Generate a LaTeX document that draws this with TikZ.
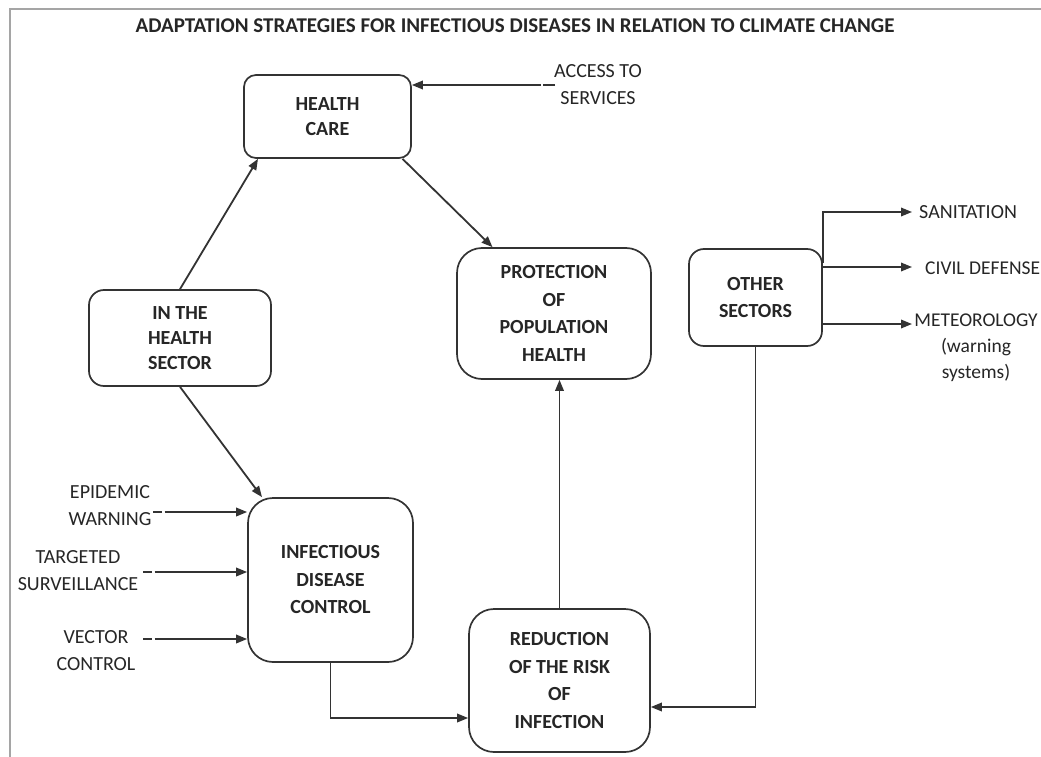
\documentclass[tikz,border=0pt]{standalone}
\usepackage{fontspec}
\setmainfont{Carlito}
\usetikzlibrary{arrows.meta,calc}
\definecolor{ln}{HTML}{333333}
\definecolor{tx}{HTML}{262626}
\definecolor{fr}{HTML}{A5A5A5}
\begin{document}
\begin{tikzpicture}[x=1pt,y=-1pt,
  box/.style={draw=ln, line width=1.7pt, rounded corners=#1, fill=white, text=tx,
    font=\bfseries\fontsize{20}{27.5}\selectfont, align=center, inner sep=0pt},
  box/.default=15pt,
  arr/.style={draw=ln, line width=1.8pt, -{Triangle[length=11pt,width=8.5pt]}},
  dp/.style={dash pattern=on 9pt off 2.5pt on 600pt},
  lbl/.style={text=tx, font=\fontsize{20}{27}\selectfont, align=center, inner sep=0pt}]
\useasboundingbox (0,0) rectangle (1041,757);
\fill[white] (0,0) rectangle (1041,757);
\draw[fr, line width=1.8pt] (10,757) -- (10,9) -- (1041,9);

\node[text=tx, font=\bfseries\fontsize{21}{24}\selectfont, inner sep=0pt] (title) at (515,26)
  {ADAPTATION STRATEGIES FOR INFECTIOUS DISEASES IN RELATION TO CLIMATE CHANGE};

% boxes
\node[box=12pt, minimum width=167pt, minimum height=83pt, font=\bfseries\fontsize{20}{25}\selectfont] (hc) at (327.5,116.5) {HEALTH\\CARE};
\node[box=15pt, minimum width=182pt, minimum height=96pt, font=\bfseries\fontsize{20}{25}\selectfont] (hs) at (180,338) {IN THE\\HEALTH\\SECTOR};
\node[box=25pt, minimum width=194pt, minimum height=131pt] (prot) at (554,313.5) {PROTECTION\\OF\\POPULATION\\HEALTH};
\node[box=15pt, minimum width=133pt, minimum height=97pt] (oth) at (755.5,297.5) {OTHER\\SECTORS};
\node[box=25pt, minimum width=165pt, minimum height=164pt] (inf) at (330.5,580) {INFECTIOUS\\DISEASE\\CONTROL};
\node[box=25pt, minimum width=181pt, minimum height=143pt] (red) at (559.5,680.5) {REDUCTION\\OF THE RISK\\OF\\INFECTION};

% labels
\node[lbl] (accL) at (598,84.5) {ACCESS TO\\SERVICES};
\node[lbl] (epiL) at (110,505.5) {EPIDEMIC\\WARNING};
\node[lbl] (tarL) at (78,571) {TARGETED\\SURVEILLANCE};
\node[lbl] (vecL) at (96,650.5) {VECTOR\\CONTROL};
\node[lbl, anchor=west] (sanL) at (919,212) {SANITATION};
\node[lbl, anchor=west, font=\fontsize{19.5}{27}\selectfont] (civL) at (925,268) {CIVIL DEFENSE};
\node[lbl, font=\fontsize{19.5}{26}\selectfont] (metL) at (976,348) {METEOROLOGY\\(warning\\systems)};

% free ends
\coordinate (acc) at (555,85);
\coordinate (epi) at (153,512);
\coordinate (tar) at (143,572);
\coordinate (vec) at (143,639);
\coordinate (san) at (912,212);
\coordinate (civ) at (912,267);
\coordinate (met) at (912,324);

% connectors
\draw[arr] (hs.north) -- ([xshift=-69.5pt]hc.south);
\draw[arr] ([xshift=75pt]hc.south) -- ([xshift=-61.5pt]prot.north);
\draw[arr] (hs.south) -- ([xshift=-68.5pt]inf.north);
\draw[arr] (red.north) -- (red.north |- prot.south);
\draw[arr] (inf.south) |- ([yshift=-37.5pt]red.west);
\draw[arr] (oth.south) |- ([yshift=-26.5pt]red.east);
\draw[arr, dash pattern=on 12pt off 2.5pt on 600pt] (acc) -- (hc.east |- acc);
\draw[arr, dp] (epi) -- (inf.west |- epi);
\draw[arr, dp] (tar) -- (inf.west |- tar);
\draw[arr, dp] (vec) -- (inf.west |- vec);
\draw[arr] ([yshift=35pt]oth.east) -- (oth.east |- san) -- (san);
\draw[arr] (oth.east |- civ) -- (civ);
\draw[arr] (oth.east |- met) -- (met);
\end{tikzpicture}
\end{document}
